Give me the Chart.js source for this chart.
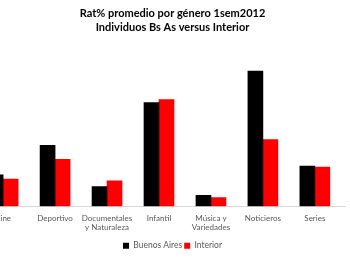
<!DOCTYPE html>
<html>
<head>
<meta charset="utf-8">
<script src="https://cdn.jsdelivr.net/npm/chart.js@4.4.0/dist/chart.umd.min.js"></script>
<style>
  html, body { margin: 0; padding: 0; background: #fff; }
  #wrap { width: 350px; height: 260px; }
</style>
</head>
<body>
<div id="wrap"><canvas id="grafico" width="350" height="260"></canvas></div>
<script>
// Generos (el primero queda cortado a la izquierda, igual que en la imagen)
const generos = ['Cine', 'Deportivo', ['Documentales', 'y Naturaleza'], 'Infantil', ['Música y', 'Variedades'], 'Noticieros', 'Series'];

// Rat% promedio por genero
const buenosAires = [1.07, 2.07, 0.67, 3.53, 0.37, 4.6, 1.37];
const interior = [0.93, 1.6, 0.87, 3.63, 0.3, 2.27, 1.33];

const titulo = ['Rat% promedio por género 1sem2012', 'Individuos Bs As versus Interior'];

document.addEventListener('DOMContentLoaded', function () {
    const fuente = 'Lato, "Open Sans", sans-serif';
    const gris = '#595959';

    // cada punto va en su indice de genero (eje lineal para poder cortar el primero)
    const aPuntos = (valores) => valores.map((v, i) => ({ x: i, y: v }));

    new Chart(document.getElementById('grafico'), {
        type: 'bar',
        data: {
            datasets: [
                {
                    label: 'Buenos Aires',
                    data: aPuntos(buenosAires),
                    backgroundColor: '#000000',
                    barThickness: 15
                },
                {
                    label: 'Interior',
                    data: aPuntos(interior),
                    backgroundColor: '#ff0000',
                    barThickness: 15
                }
            ]
        },
        options: {
            responsive: false,
            animation: false,
            layout: {
                autoPadding: false,
                padding: { left: 0, right: 5, top: 0, bottom: 0 }
            },
            plugins: {
                title: {
                    display: true,
                    text: titulo,
                    color: '#000000',
                    font: { family: fuente, size: 11, weight: 'bold', lineHeight: 1.25 },
                    padding: { top: 7, bottom: 16 }
                },
                legend: {
                    position: 'bottom',
                    labels: {
                        color: gris,
                        font: { family: fuente, size: 8.5 },
                        boxWidth: 6,
                        boxHeight: 6,
                        padding: 2
                    }
                },
                tooltip: { enabled: false }
            },
            scales: {
                x: {
                    type: 'linear',
                    min: -0.06,
                    max: 6.58,
                    offset: false,
                    grid: { display: false, drawTicks: false, tickLength: 0 },
                    border: { display: true, color: '#d9d9d9', width: 1 },
                    ticks: {
                        stepSize: 1,
                        includeBounds: false,
                        autoSkip: false,
                        maxRotation: 0,
                        color: gris,
                        padding: 7,
                        font: { family: fuente, size: 8 },
                        callback: (valor) => generos[valor] ?? ''
                    },
                    // sin relleno extra: "Cine" queda cortado en el borde
                    afterFit: (eje) => {
                        eje.paddingLeft = 0;
                        eje.paddingRight = 0;
                    }
                },
                y: {
                    display: false,
                    min: 0,
                    max: 5.3
                }
            }
        }
    });
});
</script>
</body>
</html>
